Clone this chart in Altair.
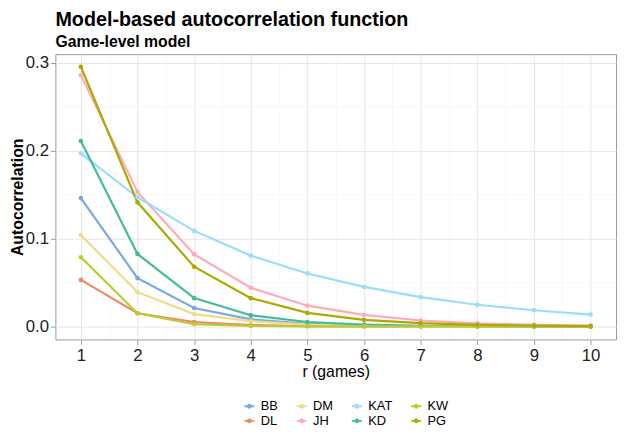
import altair as alt
import pandas as pd

lags = list(range(1, 11))
players = ["BB", "DL", "DM", "JH", "KAT", "KD", "KW", "PG"]

bb = [0.146, 0.055, 0.021, 0.008, 0.003, 0.0012, 0.0005, 0.0002, 0.0001, 0.00003]
dl = [0.053, 0.015, 0.005, 0.0015, 0.0004, 0.0001, 0.00003, 0.00001, 0.0, 0.0]
dm = [0.104, 0.039, 0.014, 0.006, 0.002, 0.0008, 0.0003, 0.0001, 0.00004, 0.00001]
jh = [0.286, 0.153, 0.082, 0.044, 0.0236, 0.0131, 0.0067, 0.0034, 0.0019, 0.001]
kat = [0.197, 0.147, 0.1087, 0.0806, 0.0603, 0.045, 0.0334, 0.0247, 0.0184, 0.0135]
kd = [0.211, 0.0825, 0.0322, 0.0128, 0.005, 0.002, 0.0008, 0.0003, 0.0001, 0.00005]
kw = [0.0787, 0.015, 0.0027, 0.0005, 0.0001, 0.0, 0.0, 0.0, 0.0, 0.0]
pg = [0.2955, 0.1412, 0.0679, 0.0322, 0.0154, 0.0075, 0.0038, 0.0018, 0.0009, 0.0004]
series = [bb, dl, dm, jh, kat, kd, kw, pg]

colors = ["#77AADD", "#EE8866", "#EEDD88", "#FFAABB",
          "#99DDFF", "#44BB99", "#BBCC33", "#AAAA00"]

x_values = [1 + 0.5 * i for i in range(19)]
y_values = [0.05 * i for i in range(7)]

rows = []
for p, vals in zip(players, series):
    for lag, v in zip(lags, vals):
        rows.append({"player": p, "lag": lag, "acf": v})
df = pd.DataFrame(rows)

FONT = "Liberation Sans"
minor_x = "datum.value % 1 !== 0"
minor_y = "abs(datum.value * 10 - round(datum.value * 10)) > 1e-6"

x_axis = alt.Axis(
    values=x_values,
    labelExpr=f"({minor_x}) ? '' : format(datum.value, 'd')",
    tickColor={"condition": {"test": minor_x, "value": "transparent"}, "value": "#999999"},
    gridWidth={"condition": {"test": minor_x, "value": 0.5}, "value": 1},
    gridColor={"condition": {"test": minor_x, "value": "#f0f0f0"}, "value": "#e6e6e6"},
    title="r (games)",
    titleFontWeight="normal",
    titlePadding=1,
    labelPadding=3,
)
y_axis = alt.Axis(
    values=y_values,
    labelExpr=f"({minor_y}) ? '' : format(datum.value, '.1f')",
    tickColor={"condition": {"test": minor_y, "value": "transparent"}, "value": "#999999"},
    gridWidth={"condition": {"test": minor_y, "value": 0.5}, "value": 1},
    gridColor={"condition": {"test": minor_y, "value": "#f0f0f0"}, "value": "#e6e6e6"},
    title="Autocorrelation",
    titleFontWeight="bold",
    titlePadding=0,
    labelPadding=2,
)

symbol_path = "M-1,0H1M-0.3,0A0.3,0.3,0,1,1,0.3,0A0.3,0.3,0,1,1,-0.3,0Z"

legend = alt.Legend(
    title=None,
    orient="none",
    legendX=190,
    legendY=350,
    columns=4,
    symbolType=symbol_path,
    symbolSize=100,
    symbolStrokeWidth=2,
    labelFontSize=13,
    labelOffset=5,
)
color = alt.Color(
    "player:N",
    scale=alt.Scale(domain=players, range=colors),
    legend=legend,
)

x = alt.X("lag:Q", scale=alt.Scale(domain=[0.55, 10.45], nice=False, zero=False), axis=x_axis)
y = alt.Y("acf:Q", scale=alt.Scale(domain=[-0.0148, 0.3098], nice=False, zero=False), axis=y_axis)

lines = alt.Chart(df).mark_line(strokeWidth=2.2).encode(x=x, y=y, color=color)
points = alt.Chart(df).mark_point(filled=True, size=22, opacity=1).encode(x=x, y=y, color=color)

chart = (
    alt.layer(lines, points)
    .properties(
        width=568,
        height=289,
        title=alt.TitleParams(
            "Model-based autocorrelation function",
            subtitle="Game-level model",
            anchor="start",
            frame="group",
            fontSize=20,
            fontWeight="bold",
            subtitleFontSize=16,
            subtitleFontWeight="bold",
            subtitleColor="#000000",
            color="#000000",
            font=FONT,
            subtitleFont=FONT,
            offset=4,
            subtitlePadding=4,
        ),
        autosize=alt.AutoSizeParams(type="none"),
        padding={"left": 48, "top": 44, "right": 5, "bottom": 90},
    )
    .configure(font=FONT)
    .configure_view(stroke="#999999", strokeWidth=1)
    .configure_axis(
        domain=False,
        labelFont=FONT,
        titleFont=FONT,
        labelFontSize=17,
        titleFontSize=16,
        labelColor="#222222",
        titleColor="#000000",
        tickSize=5,
    )
    .configure_legend(labelFont=FONT, labelColor="#000000", padding=0,
                      rowPadding=1, columnPadding=14)
)

chart.save("out.html", embed_options={"renderer": "svg", "actions": False})
